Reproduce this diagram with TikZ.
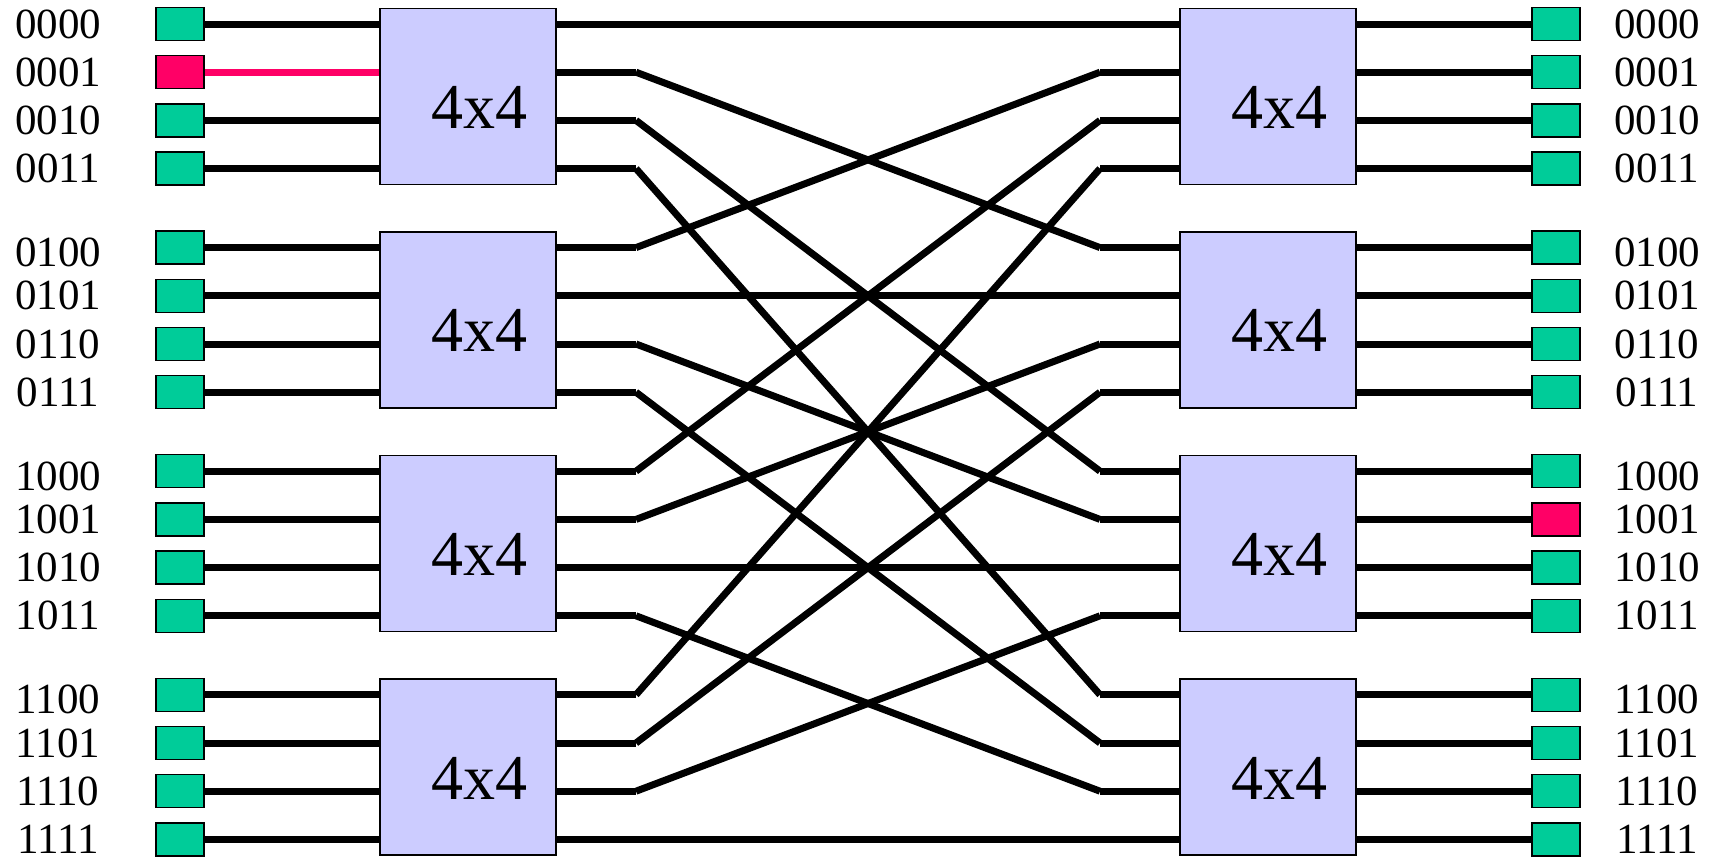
\documentclass[tikz,border=0pt]{standalone}
\usepackage{fontspec}
\setmainfont{Liberation Serif}
\usetikzlibrary{calc}
\pgfdeclarelayer{bg}
\pgfsetlayers{bg,main}
\definecolor{sqgreen}{RGB}{0,204,153}
\definecolor{sqred}{RGB}{255,0,102}
\definecolor{boxblue}{RGB}{204,204,255}
\begin{document}
\begin{tikzpicture}[x=1pt,y=-1pt,
  port/.style={draw=black, line width=1.4pt, fill=sqgreen, minimum width=48pt, minimum height=33pt, inner sep=0pt},
  hot/.style={fill=sqred},
  cold/.style={},
  switchbox/.style={draw=black, line width=1.6pt, fill=boxblue, minimum size=176pt, inner sep=0pt},
  boxlabel/.style={anchor=base, inner sep=0pt, font=\fontsize{64}{64}\selectfont},
  portlabel/.style={inner sep=0pt, font=\fontsize{43}{43}\selectfont},
  wire/.style={line width=7pt, draw=black},
  hotwire/.style={line width=7pt, draw=sqred}]
\useasboundingbox (0,0) rectangle (1719,857);
\foreach \g in {0,...,3}{
  \pgfmathsetmacro\yc{24+223.6*\g+72.3}
  \node[switchbox] (L\g) at (468,\yc) {};
  \node[switchbox] (R\g) at (1268,\yc) {};
  \node[boxlabel] (Lt\g) at ($(L\g.center)+(11,32)$) {4x4};
  \node[boxlabel] (Rt\g) at ($(R\g.center)+(11,32)$) {4x4};
}
\foreach \g/\gb in {0/00,1/01,2/10,3/11}{
  \foreach \r/\rb in {0/00,1/01,2/10,3/11}{
    \pgfmathsetmacro\y{24+223.6*\g+48.2*\r}
    \pgfmathtruncatemacro\idx{4*\g+\r}
    \ifnum\idx=1 \def\istyle{hot}\else\def\istyle{cold}\fi
    \ifnum\idx=9 \def\ostyle{hot}\else\def\ostyle{cold}\fi
    \pgfmathsetmacro\ly{\y+((\r==0)&&(\g>0))*5}
    \node[port,\istyle] (I\g\r) at (180,\y) {};
    \node[port,\ostyle] (O\g\r) at (1556,\y) {};
    \node[portlabel] (IL\g\r) at (58,\ly) {\gb\rb};
    \node[portlabel] (OL\g\r) at (1657,\ly) {\gb\rb};
    \coordinate (KL\g\r) at (636,\y);
    \coordinate (KR\g\r) at (1100,\y);
  }
}
\begin{pgfonlayer}{bg}
\foreach \g in {0,...,3}{
  \foreach \r in {0,...,3}{
    \pgfmathtruncatemacro\idx{4*\g+\r}
    \ifnum\idx=1 \def\wstyle{hotwire}\else\def\wstyle{wire}\fi
    \draw[\wstyle] (I\g\r.east) -- (I\g\r.east -| L\g.west);
    \draw[wire] (O\g\r.west) -- (O\g\r.west -| R\g.east);
    \draw[wire] (KL\g\r -| L\g.east) -- (KL\g\r);
    \draw[wire] (KL\g\r) -- (KR\r\g);
    \draw[wire] (KR\r\g) -- (KR\r\g -| R\r.west);
  }
}
\end{pgfonlayer}
\end{tikzpicture}
\end{document}
